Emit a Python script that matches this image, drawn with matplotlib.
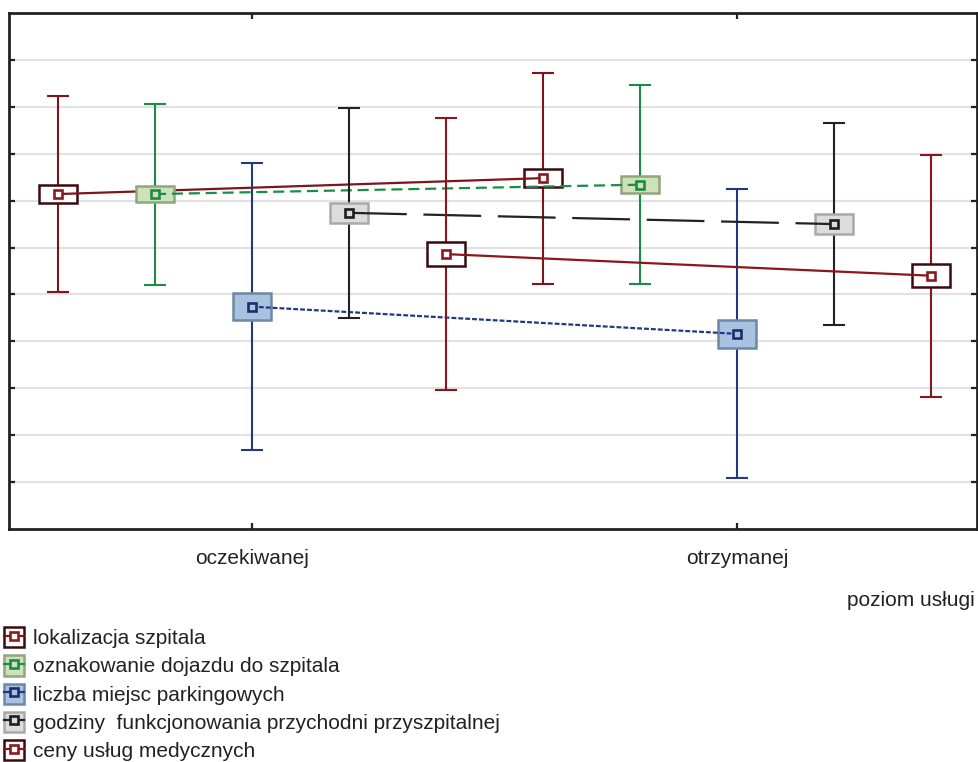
import matplotlib
matplotlib.use("Agg")
import matplotlib.pyplot as plt
from matplotlib.patches import Rectangle
from matplotlib.lines import Line2D
from matplotlib.legend_handler import HandlerTuple

plt.rcParams['font.family'] = ['Liberation Sans', 'DejaVu Sans']

# service level (x categories)
levels = ["oczekiwanej", "otrzymanej"]
x_title = "poziom usługi"

series_names = [
    "lokalizacja szpitala",
    "oznakowanie dojazdu do szpitala",
    "liczba miejsc parkingowych",
    "godziny  funkcjonowania przychodni przyszpitalnej",
    "ceny usług medycznych",
]

# means per level (oczekiwanej, otrzymanej)
mean_lokalizacja = [3.57, 3.74]
mean_oznakowanie = [3.57, 3.67]
mean_parking = [2.37, 2.08]
mean_godziny = [3.37, 3.25]
mean_ceny = [2.93, 2.70]

# standard deviations (whiskers)
sd_lokalizacja = [1.045, 1.125]
sd_oznakowanie = [0.965, 1.06]
sd_parking = [1.53, 1.54]
sd_godziny = [1.12, 1.08]
sd_ceny = [1.45, 1.29]

# standard errors (boxes)
se_lokalizacja = [0.093, 0.099]
se_oznakowanie = [0.088, 0.093]
se_parking = [0.141, 0.147]
se_godziny = [0.104, 0.104]
se_ceny = [0.131, 0.120]

means = [mean_lokalizacja, mean_oznakowanie, mean_parking, mean_godziny, mean_ceny]
sds = [sd_lokalizacja, sd_oznakowanie, sd_parking, sd_godziny, sd_ceny]
ses = [se_lokalizacja, se_oznakowanie, se_parking, se_godziny, se_ceny]

# styles: whisker/line colour, box fill, box edge, inner marker colour, line dash
styles = [
    dict(c='#7d1519', fill='#ffffff', edge='#3b0a10', inner='#8b1a1f', ls='-'),
    dict(c='#1b8c47', fill='#cfe1bb', edge='#8ea77b', inner='#1b8c47', ls=(0, (5.0, 2.6))),
    dict(c='#24387f', fill='#a8c3df', edge='#6d88a6', inner='#1e2d70', ls=(0, (2.2, 0.9))),
    dict(c='#222222', fill='#dcdcdc', edge='#a9a9a9', inner='#1e1e1e', ls=(0, (26, 7.5))),
    dict(c='#8a171c', fill='#ffffff', edge='#3b0a10', inner='#8b1a1f', ls='-'),
]

fig = plt.figure(figsize=(9.79, 7.62), dpi=100)
ax = fig.add_axes([9 / 979, 1 - 529 / 762, 968 / 979, 516 / 762])

offset_step = 0.2
box_w = 0.078

for i, (m, sd, se, st) in enumerate(zip(means, sds, ses, styles)):
    z = 3 + i
    xs = [k + (i - 2) * offset_step for k in range(len(levels))]
    ax.errorbar(xs, m, yerr=sd, fmt='none', ecolor=st['c'], elinewidth=1.5,
                capsize=7.6, capthick=1.5, zorder=z)
    for xk, mk, sk in zip(xs, m, se):
        ax.add_patch(Rectangle((xk - box_w / 2, mk - sk), box_w, 2 * sk,
                               facecolor=st['fill'], edgecolor=st['edge'],
                               linewidth=1.8, zorder=z + 0.2))
    ax.plot(xs, m, color=st['c'], linestyle=st['ls'], linewidth=1.6, zorder=z + 0.4)
    ax.plot(xs, m, linestyle='none', marker='s', markersize=5.8,
            markerfacecolor=st['fill'], markeredgecolor=st['inner'],
            markeredgewidth=1.9, zorder=z + 0.6)

ax.set_xlim(-0.501, 1.495)
ax.set_ylim(0, 5.5)
ax.set_xticks(range(len(levels)))
ax.set_xticklabels(levels, fontsize=15, color='#222222')
ax.set_yticks([0.5 * k for k in range(1, 11)])
ax.set_yticklabels([])
ax.tick_params(axis='both', direction='in', length=4.5, width=1.6, color='#222222',
               top=True, right=True)
ax.tick_params(axis='x', pad=14.5)
ax.grid(axis='y', color='#e2e2e2', linewidth=1.5, zorder=0)
ax.set_axisbelow(True)
for sp in ax.spines.values():
    sp.set_linewidth(2.0)
    sp.set_color('#222222')

fig.text(975 / 979, 1 - 600 / 762, x_title, ha='right', va='center',
         fontsize=15, color='#222222')

handles = []
for st in styles:
    box = Rectangle((0, 0), 1, 1, facecolor=st['fill'], edgecolor=st['edge'], linewidth=1.8)
    ln = Line2D([], [], color=st['c'], linestyle='-', linewidth=1.6, marker='s',
                markersize=5.8, markerfacecolor=st['fill'],
                markeredgecolor=st['inner'], markeredgewidth=1.9)
    handles.append((box, ln))

fig.legend(handles, series_names, loc='upper left',
           bbox_to_anchor=(4 / 979, 1 - 627 / 762), frameon=False,
           fontsize=15, handlelength=0.95, handleheight=1.12, handletextpad=0.45,
           labelspacing=0.34, borderpad=0, borderaxespad=0,
           handler_map={tuple: HandlerTuple(ndivide=1, pad=0)},
           labelcolor='#222222')

fig.savefig('out.png', dpi=100)
